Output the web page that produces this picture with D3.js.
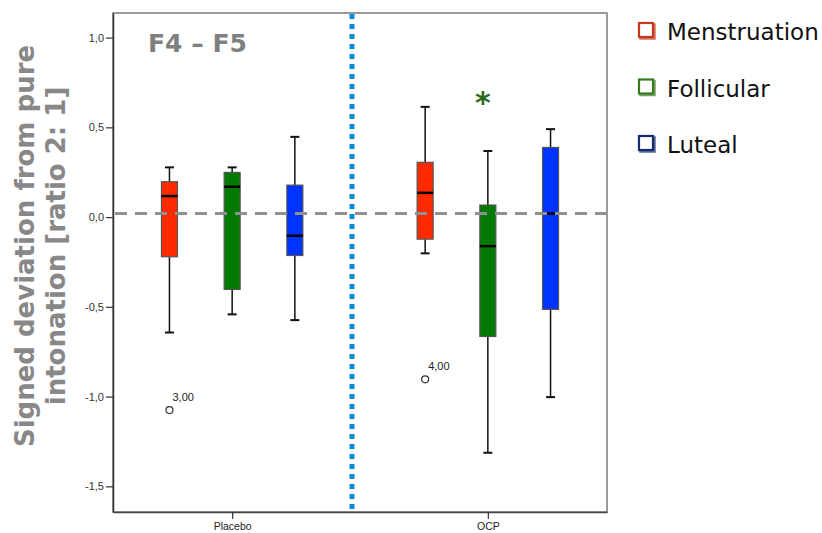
<!DOCTYPE html>
<html><head><meta charset="utf-8">
<script src="https://cdn.jsdelivr.net/npm/d3@7"></script>
<style>body{margin:0;background:#fff}svg{display:block}</style>
</head><body>
<script>
const groups = ["Placebo", "OCP"];
const phases = ["Menstruation", "Follicular", "Luteal"];
const phaseColors = ["#ff2a00", "#007a00", "#0033ff"];
const legendColors = ["#c8381e", "#3a7a1e", "#122a6e"];
// per phase: [whiskerLow, q1, median, q3, whiskerHigh]
const placeboStats = [
  [-0.643, -0.221, 0.117, 0.197, 0.277],
  [-0.542, -0.403, 0.169, 0.249, 0.277],
  [-0.574, -0.214, -0.104, 0.178, 0.447]
];
const ocpStats = [
  [-0.202, -0.123, 0.135, 0.305, 0.614],
  [-1.313, -0.665, -0.162, 0.067, 0.368],
  [-1.003, -0.514, 0.020, 0.388, 0.490]
];
const outliers = [
  {group: "Placebo", phase: "Menstruation", value: -1.075, label: "3,00"},
  {group: "OCP", phase: "Menstruation", value: -0.904, label: "4,00"}
];
const yTicks = [1.0, 0.5, 0.0, -0.5, -1.0, -1.5];
const referenceValue = 0.02;
const significance = {group: "OCP", phase: "Follicular", value: 0.66, label: "*"};
const title = "F4 – F5";
const yLabelLines = ["Signed deviation from pure", "intonation [ratio 2: 1]"];

const W = 822, H = 533;
const L = 113, R = 607, T = 13, B = 512;
const svg = d3.select("body").append("svg").attr("width", W).attr("height", H);

const y = d3.scaleLinear().domain([-1.643, 1.137]).range([B, T]);
const x = d3.scalePoint().domain(groups).range([L, R]).padding(0.466);
const xo = d3.scalePoint().domain(phases).range([-62.7, 62.7]);

const boxes = [];
groups.forEach((g, gi) => {
  const st = gi === 0 ? placeboStats : ocpStats;
  phases.forEach((p, pi) => {
    const s = st[pi];
    boxes.push({group: g, phase: p, color: phaseColors[pi], lo: s[0], q1: s[1], med: s[2], q3: s[3], hi: s[4]});
  });
});

// frame
svg.append("rect").attr("x", L).attr("y", T).attr("width", R - L).attr("height", B - T)
  .attr("fill", "none").attr("stroke", "#7a7a7a").attr("stroke-width", 1.5);

// y axis
const yAxis = svg.append("g").attr("transform", `translate(${L},0)`)
  .call(d3.axisLeft(y).tickValues(yTicks).tickSize(7).tickSizeOuter(0).tickPadding(2)
    .tickFormat(d => d3.format(".1f")(d).replace(".", ",").replace("−", "-")));
yAxis.select(".domain").attr("stroke", "#333").attr("stroke-width", 1.5);
yAxis.selectAll(".tick line").attr("stroke", "#333").attr("stroke-width", 1.2);
yAxis.selectAll(".tick text").attr("font-family", "Liberation Sans, Arial, sans-serif")
  .attr("font-size", 11).attr("fill", "#333");

// x axis
const xAxis = svg.append("g").attr("transform", `translate(0,${B})`)
  .call(d3.axisBottom(x).tickSize(7).tickSizeOuter(0).tickPadding(4));
xAxis.select(".domain").attr("stroke", "#444").attr("stroke-width", 1.5);
xAxis.selectAll(".tick line").attr("stroke", "#333").attr("stroke-width", 1.2);
xAxis.selectAll(".tick text").attr("font-family", "Liberation Sans, Arial, sans-serif")
  .attr("font-size", 10.5).attr("fill", "#222");

// divider (blue dotted)
const divX = (x("Placebo") + x("OCP")) / 2 - 8;
svg.append("line").attr("x1", divX).attr("x2", divX).attr("y1", T + 1).attr("y2", B)
  .attr("stroke", "#0a86d6").attr("stroke-width", 5).attr("stroke-dasharray", "5,5");

const bw = 16, capW = 7;
const bg = svg.append("g").selectAll("g").data(boxes).join("g")
  .attr("transform", d => `translate(${x(d.group) + xo(d.phase)},0)`);
bg.append("line").attr("y1", d => y(d.hi)).attr("y2", d => y(d.q3)).attr("stroke", "#111").attr("stroke-width", 1.5);
bg.append("line").attr("y1", d => y(d.q1)).attr("y2", d => y(d.lo)).attr("stroke", "#111").attr("stroke-width", 1.5);
bg.append("line").attr("x1", -capW / 2 - 1).attr("x2", capW / 2 + 1).attr("y1", d => y(d.hi)).attr("y2", d => y(d.hi)).attr("stroke", "#111").attr("stroke-width", 2);
bg.append("line").attr("x1", -capW / 2 - 1).attr("x2", capW / 2 + 1).attr("y1", d => y(d.lo)).attr("y2", d => y(d.lo)).attr("stroke", "#111").attr("stroke-width", 2);
bg.append("rect").attr("x", -bw / 2).attr("width", bw)
  .attr("y", d => y(d.q3)).attr("height", d => y(d.q1) - y(d.q3))
  .attr("fill", d => d.color).attr("stroke", "#555").attr("stroke-width", 1.2);
bg.append("line").attr("x1", -bw / 2).attr("x2", bw / 2).attr("y1", d => y(d.med)).attr("y2", d => y(d.med))
  .attr("stroke", "#000").attr("stroke-width", 2.5);

// reference dashed line
svg.append("line").attr("x1", L + 2).attr("x2", R).attr("y1", y(referenceValue)).attr("y2", y(referenceValue))
  .attr("stroke", "#909090").attr("stroke-width", 3).attr("stroke-dasharray", "12,8");

// outliers
const og = svg.append("g").selectAll("g").data(outliers).join("g")
  .attr("transform", d => `translate(${x(d.group) + xo(d.phase)},${y(d.value)})`);
og.append("circle").attr("r", 3.5).attr("fill", "#fff").attr("stroke", "#333").attr("stroke-width", 1.2);
og.append("text").attr("x", 3).attr("y", -9).text(d => d.label)
  .attr("font-family", "Liberation Sans, Arial, sans-serif").attr("font-size", 11).attr("fill", "#222");

// significance asterisk
svg.append("text").attr("x", x(significance.group) + xo(significance.phase) - 5)
  .attr("y", y(significance.value) + 14).attr("text-anchor", "middle")
  .attr("font-family", "DejaVu Sans, sans-serif").attr("font-weight", "bold").attr("font-size", 30)
  .attr("fill", "#2a6a1a").text(significance.label);

// title
svg.append("text").attr("x", 148).attr("y", 52).text(title)
  .attr("font-family", "DejaVu Sans, Verdana, sans-serif").attr("font-weight", "bold")
  .attr("font-size", 25).attr("fill", "#808080");

// y label
const yl = svg.append("text").attr("transform", "translate(0,246) rotate(-90)")
  .attr("text-anchor", "middle").attr("font-family", "DejaVu Sans, Verdana, sans-serif")
  .attr("font-weight", "bold").attr("font-size", 26).attr("fill", "#888");
yLabelLines.forEach((t, i) => yl.append("tspan").attr("x", 0).attr("y", 34 + i * 31).text(t));

// legend
const lg = svg.append("g").selectAll("g").data(phases).join("g")
  .attr("transform", (d, i) => `translate(639,${23 + i * 56.5})`);
lg.append("rect").attr("x", 1.5).attr("y", 1.5).attr("width", 14).attr("height", 14)
  .attr("fill", "none").attr("stroke", (d, i) => legendColors[i]).attr("stroke-width", 2.5).attr("opacity", 0.7);
lg.append("rect").attr("x", 0).attr("y", 0).attr("width", 14).attr("height", 14)
  .attr("fill", "#fff").attr("stroke", (d, i) => legendColors[i]).attr("stroke-width", 2.2);
lg.append("text").attr("x", 28).attr("y", 17).text(d => d)
  .attr("font-family", "DejaVu Sans, Verdana, sans-serif").attr("font-size", 23).attr("fill", "#111");
</script>
</body></html>
